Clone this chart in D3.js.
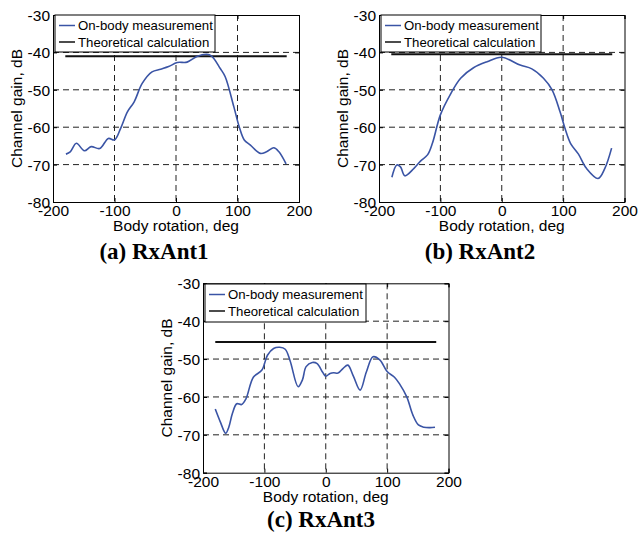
<!DOCTYPE html>
<html>
<head>
<meta charset="utf-8">
<script src="https://cdn.jsdelivr.net/npm/d3@7/dist/d3.min.js"></script>
<style>
  html, body { margin: 0; padding: 0; background: #fff; }
  svg { display: block; }
</style>
</head>
<body>
<svg id="chart" width="638" height="535"></svg>
<script>
// ---- data ----
const xTicks = [-200, -100, 0, 100, 200];
const yTicks = [-30, -40, -50, -60, -70, -80];
const legendLabels = ["On-body measurement", "Theoretical calculation"];
const captions = ["(a) RxAnt1", "(b) RxAnt2", "(c) RxAnt3"];
const xLabel = "Body rotation, deg";
const yLabel = "Channel gain, dB";

const angleA = [-179,-172,-162,-149,-138,-124,-110,-100,-90,-79,-68,-55,-39,-25,-12,2,18,34,50,58,72,80,94,103,111,121,137,148,159,167,179];
const gainA  = [-67.2,-66.6,-64.3,-66.3,-65.2,-65.7,-63.0,-63.4,-60.3,-55.9,-53.2,-48.3,-45.2,-44.5,-43.8,-42.7,-42.6,-41.1,-40.5,-41.0,-44.3,-46.5,-54.5,-60.0,-63.4,-64.8,-67.0,-66.5,-65.5,-66.5,-69.8];
const theoryA = -41.0;

const angleB = [-179,-171,-165,-158,-143,-132,-121,-113,-100,-83,-67,-46,-24,0,30,49,68,82,95,103,112,125,138,157,168,179];
const gainB  = [-73.4,-70.1,-70.6,-73.0,-71.0,-69.0,-67.4,-64.3,-56.7,-51.0,-46.9,-44.1,-42.5,-41.3,-43.4,-44.4,-46.9,-50.0,-55.9,-60.3,-64.3,-67.2,-71.0,-73.7,-71.0,-65.6];
const theoryB = -40.5;

const angleC = [-180,-172,-163,-158,-152,-145,-137,-130,-118,-104,-95,-85,-75,-66,-58,-45,-38,-32,-22,-14,-5,0,7,13,20,28,36,45,56,66,77,88,100,112,120,132,142,151,160,170,178];
const gainC  = [-63.2,-66.5,-69.6,-68.0,-64.3,-61.8,-62.0,-60.5,-54.8,-52.9,-49.0,-47.2,-46.9,-47.4,-50.5,-57.3,-55.5,-52.0,-50.9,-51.2,-53.5,-54.5,-53.8,-53.6,-53.7,-52.5,-51.6,-54.5,-58.2,-53.5,-49.4,-50.2,-53.3,-54.8,-56.5,-60.0,-64.8,-67.4,-68.0,-68.1,-68.0];
const theoryC = -45.5;

const theoryRange = [-180, 180];

// ---- layout ----
const panels = [
  { angles: angleA, gains: gainA, theory: theoryA, caption: captions[0],
    x0: 53, x1: 299, y0: 15, y1: 202, legX: 55, legW: 160, legY: 15, legH: 37,
    ylabX: 17, capX: 154, capY: 259 },
  { angles: angleB, gains: gainB, theory: theoryB, caption: captions[1],
    x0: 379, x1: 624.5, y0: 15, y1: 202, legX: 381, legW: 160, legY: 15, legH: 37,
    ylabX: 343, capX: 480, capY: 259 },
  { angles: angleC, gains: gainC, theory: theoryC, caption: captions[2],
    x0: 203, x1: 448.5, y0: 283.3, y1: 472.7, legX: 205, legW: 161, legY: 284, legH: 38,
    ylabX: 167, capX: 321, capY: 527 }
];

const svg = d3.select("#chart");
const sans = "'Liberation Sans', Arial, Helvetica, sans-serif";
const serif = "'Liberation Serif', 'Times New Roman', serif";
const blue = "#3a54a5";
const fmt = d => String(d);

panels.forEach(p => {
  const x = d3.scaleLinear().domain([-200, 200]).range([p.x0, p.x1]);
  const y = d3.scaleLinear().domain([-30, -80]).range([p.y0, p.y1]);
  const g = svg.append("g");

  // grid
  g.selectAll(".gx").data(xTicks.filter(t => t > -200 && t < 200)).join("line")
    .attr("x1", d => x(d)).attr("x2", d => x(d)).attr("y1", p.y0).attr("y2", p.y1)
    .attr("stroke", "#222").attr("stroke-width", 1).attr("stroke-dasharray", "6,4");
  g.selectAll(".gy").data(yTicks.filter(t => t < -30 && t > -80)).join("line")
    .attr("x1", p.x0).attr("x2", p.x1).attr("y1", d => y(d)).attr("y2", d => y(d))
    .attr("stroke", "#222").attr("stroke-width", 1).attr("stroke-dasharray", "6,4");

  // axes (ticks inward, box)
  const axB = d3.axisBottom(x).tickValues(xTicks).tickSize(-4).tickPadding(3).tickFormat(fmt);
  const axL = d3.axisLeft(y).tickValues(yTicks).tickSize(-4).tickPadding(3).tickFormat(fmt);
  const axT = d3.axisTop(x).tickValues(xTicks).tickSize(-4).tickFormat("");
  const axR = d3.axisRight(y).tickValues(yTicks).tickSize(-4).tickFormat("");
  const gb = g.append("g").attr("transform", `translate(0,${p.y1})`).call(axB);
  const gl = g.append("g").attr("transform", `translate(${p.x0},0)`).call(axL);
  const gt = g.append("g").attr("transform", `translate(0,${p.y0})`).call(axT);
  const gr = g.append("g").attr("transform", `translate(${p.x1},0)`).call(axR);
  [gb, gl, gt, gr].forEach(a => {
    a.selectAll("path.domain").attr("stroke", "#000").attr("stroke-width", 1);
    a.selectAll(".tick line").attr("stroke", "#000");
    a.selectAll("text").attr("font-family", sans).attr("font-size", 15.5).attr("fill", "#000");
  });
  gb.selectAll("text").attr("dy", "0.71em");
  gl.selectAll("text").attr("dy", "0.35em");

  // theoretical line
  g.append("line")
    .attr("x1", x(theoryRange[0])).attr("x2", x(theoryRange[1]))
    .attr("y1", y(p.theory)).attr("y2", y(p.theory))
    .attr("stroke", "#111").attr("stroke-width", 2);

  // measurement curve
  const pts = p.angles.map((a, i) => [a, p.gains[i]]);
  const line = d3.line().x(d => x(d[0])).y(d => y(d[1])).curve(d3.curveCatmullRom.alpha(0.5));
  g.append("path").datum(pts).attr("d", line)
    .attr("fill", "none").attr("stroke", blue).attr("stroke-width", 1.6);

  // legend
  const lg = g.append("g");
  lg.append("rect").attr("x", p.legX).attr("y", p.legY).attr("width", p.legW).attr("height", p.legH)
    .attr("fill", "#fff").attr("stroke", "#000").attr("stroke-width", 1);
  const rows = [p.legY + 10.5, p.legY + 27];
  const cols = [blue, "#111"];
  legendLabels.forEach((lab, i) => {
    lg.append("line").attr("x1", p.legX + 4).attr("x2", p.legX + 20)
      .attr("y1", rows[i]).attr("y2", rows[i]).attr("stroke", cols[i]).attr("stroke-width", 1.5);
    lg.append("text").attr("x", p.legX + 23).attr("y", rows[i]).attr("dy", "0.35em")
      .attr("font-family", sans).attr("font-size", 13.2).attr("fill", "#000").text(lab);
  });

  // axis labels
  g.append("text").attr("x", (p.x0 + p.x1) / 2).attr("y", p.y1 + 29)
    .attr("text-anchor", "middle").attr("font-family", sans).attr("font-size", 15.5).text(xLabel);
  g.append("text").attr("transform", `translate(${p.ylabX},${(p.y0 + p.y1) / 2}) rotate(-90)`)
    .attr("text-anchor", "middle").attr("dy", "0.35em").attr("font-family", sans).attr("font-size", 15.5).text(yLabel);

  // caption
  g.append("text").attr("x", p.capX).attr("y", p.capY).attr("text-anchor", "middle")
    .attr("font-family", serif).attr("font-weight", "bold").attr("font-size", 23).text(p.caption);
});
</script>
</body>
</html>
